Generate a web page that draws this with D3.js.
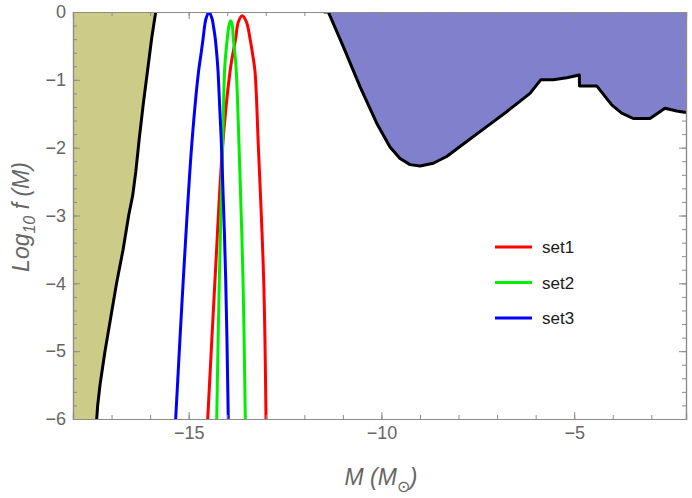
<!DOCTYPE html>
<html>
<head>
<meta charset="utf-8">
<script src="https://cdn.jsdelivr.net/npm/d3@7"></script>
<style>
  body { margin: 0; background: #fff; }
  svg { display: block; font-family: "Liberation Sans", Arial, sans-serif; }
  .frame path, .frame line { stroke: #8c8c8c; }
  .frame text { fill: #666; font-size: 18px; }
</style>
</head>
<body>
<svg id="chart" width="692" height="498"></svg>
<script>
// log10 M (solar masses) vs log10 f(M)
const olive = [[-15.855, 0], [-15.96, -0.39], [-16.07, -0.88], [-16.18, -1.37], [-16.28, -1.86],
  [-16.37, -2.35], [-16.45, -2.7], [-16.556, -3], [-16.7, -3.5], [-16.87, -4], [-17.02, -4.5],
  [-17.17, -5], [-17.3, -5.5], [-17.36, -5.8], [-17.385, -6]];

const purple = [[-11.5, 0], [-11.378, 0], [-10.989, -0.51], [-10.556, -1.10], [-10.123, -1.64],
  [-9.778, -1.99], [-9.518, -2.16], [-9.259, -2.25], [-9.0, -2.27], [-8.654, -2.23],
  [-8.307, -2.13], [-7.788, -1.91], [-7.269, -1.69], [-6.751, -1.47], [-6.146, -1.20],
  [-5.869, -1.00], [-5.542, -1.00], [-5.194, -0.97], [-4.867, -0.93], [-4.862, -1.09],
  [-4.416, -1.09], [-4.027, -1.37], [-3.768, -1.49], [-3.467, -1.57], [-3.034, -1.57],
  [-2.645, -1.42], [-2.341, -1.46], [-2.1, -1.48]];

const set1 = [[-14.506, -6], [-14.317, -3.95], [-14.117, -1.96], [-13.928, -0.88], [-13.858, -0.63],
  [-13.78, -0.39], [-13.714, -0.15], [-13.609, -0.055], [-13.5, -0.15], [-13.409, -0.39],
  [-13.339, -0.63], [-13.279, -0.88], [-13.194, -1.96], [-13.054, -3.95], [-12.994, -6]];

const set2 = [[-14.273, -6], [-14.205, -3.95], [-14.117, -1.96], [-14.07, -0.88], [-14.039, -0.63],
  [-13.998, -0.39], [-13.955, -0.2], [-13.91, -0.13], [-13.868, -0.2], [-13.842, -0.39],
  [-13.798, -0.63], [-13.764, -0.88], [-13.694, -1.96], [-13.59, -3.95], [-13.531, -6]];

const set3 = [[-15.337, -6], [-15.14, -3.95], [-14.92, -1.96], [-14.744, -0.88], [-14.682, -0.63],
  [-14.625, -0.39], [-14.584, -0.2], [-14.551, -0.1], [-14.472, 0], [-14.393, -0.1],
  [-14.36, -0.2], [-14.31, -0.39], [-14.27, -0.63], [-14.237, -0.88], [-14.15, -1.96],
  [-14.039, -3.95], [-13.972, -6]];

const seriesNames = ["set1", "set2", "set3"];
const seriesColors = ["#ff0000", "#00ee00", "#0000ff"];
const xMajor = [-15, -10, -5];
const yMajor = [0, -1, -2, -3, -4, -5, -6];

const svg = d3.select("#chart");
const L = 73, R = 686, T = 12, B = 419;
const x = d3.scaleLinear().domain([-18, -2.1]).range([L, R]);
const y = d3.scaleLinear().domain([-6, 0]).range([B, T]);

svg.append("clipPath").attr("id", "plot")
  .append("rect").attr("x", L).attr("y", T).attr("width", R - L).attr("height", B - T);
const g = svg.append("g").attr("clip-path", "url(#plot)");

const line = d3.line().x(d => x(d[0])).y(d => y(d[1]));

// excluded regions
g.append("path")
  .datum([[-18, 0], ...olive, [-18, -6]])
  .attr("d", line).attr("fill", "rgb(204,204,136)");
g.append("path")
  .datum([...purple, [-2.1, 0]])
  .attr("d", line).attr("fill", "rgb(128,128,204)");

// mass function curves
const smooth = d3.line().curve(d3.curveCatmullRom.alpha(0.5)).x(d => x(d[0])).y(d => y(d[1]));
[set1, set2, set3].forEach((s, i) => {
  g.append("path").datum(s).attr("d", smooth)
    .attr("fill", "none").attr("stroke", seriesColors[i]).attr("stroke-width", 3);
});

// boundaries
[olive, purple].forEach(s => {
  g.append("path").datum(s).attr("d", line)
    .attr("fill", "none").attr("stroke", "#000").attr("stroke-width", 3)
    .attr("stroke-linejoin", "round");
});

// frame with inward ticks
const xMinor = d3.range(-18, -2, 1);
const yMinor = d3.range(0, -6.01, -0.2);
const fmt = d => (d < 0 ? "\u2212" + Math.abs(d) : d);

function frameAxis(axis, tr, vals, size, labels) {
  return svg.append("g").attr("class", "frame").attr("transform", tr)
    .call(axis.tickValues(vals).tickSize(size).tickPadding(7).tickFormat(labels ? fmt : ""));
}
frameAxis(d3.axisBottom(x), `translate(0,${B})`, xMinor, -4, false);
frameAxis(d3.axisBottom(x), `translate(0,${B})`, xMajor, -7, true);
frameAxis(d3.axisTop(x), `translate(0,${T})`, xMinor, -4, false);
frameAxis(d3.axisTop(x), `translate(0,${T})`, xMajor, -7, false);
frameAxis(d3.axisLeft(y), `translate(${L},0)`, yMinor, -4, false);
frameAxis(d3.axisLeft(y), `translate(${L},0)`, yMajor, -7, true);
frameAxis(d3.axisRight(y), `translate(${R},0)`, yMinor, -4, false);
frameAxis(d3.axisRight(y), `translate(${R},0)`, yMajor, -7, false);
svg.selectAll(".frame .domain").attr("stroke-width", 1.2);
svg.selectAll(".frame text").filter(function () { return this.textContent === ""; }).remove();

// axis titles
const xt = svg.append("text").attr("x", 381).attr("y", 485).attr("text-anchor", "middle")
  .attr("fill", "#666").attr("font-size", 23).attr("font-style", "italic");
xt.append("tspan").text("M (M");
xt.append("tspan").attr("dy", 7).attr("font-size", 16).attr("font-style", "normal").text("\u2299");
xt.append("tspan").attr("dy", -7).text(")");

const yt = svg.append("text").attr("transform", "translate(29,217) rotate(-90)")
  .attr("text-anchor", "middle").attr("fill", "#666").attr("font-size", 23).attr("font-style", "italic");
yt.append("tspan").text("Log");
yt.append("tspan").attr("dy", 6).attr("font-size", 16).text("10");
yt.append("tspan").attr("dy", -6).text(" f (M)");

// legend
const leg = svg.append("g").attr("transform", "translate(495,247)");
seriesNames.forEach((n, i) => {
  const row = leg.append("g").attr("transform", `translate(0,${i * 35.5})`);
  row.append("line").attr("x1", 0).attr("x2", 37).attr("stroke", seriesColors[i]).attr("stroke-width", 3);
  row.append("text").attr("x", 47).attr("y", 6).attr("font-size", 17).attr("fill", "#1a1a1a").text(n);
});
</script>
</body>
</html>
